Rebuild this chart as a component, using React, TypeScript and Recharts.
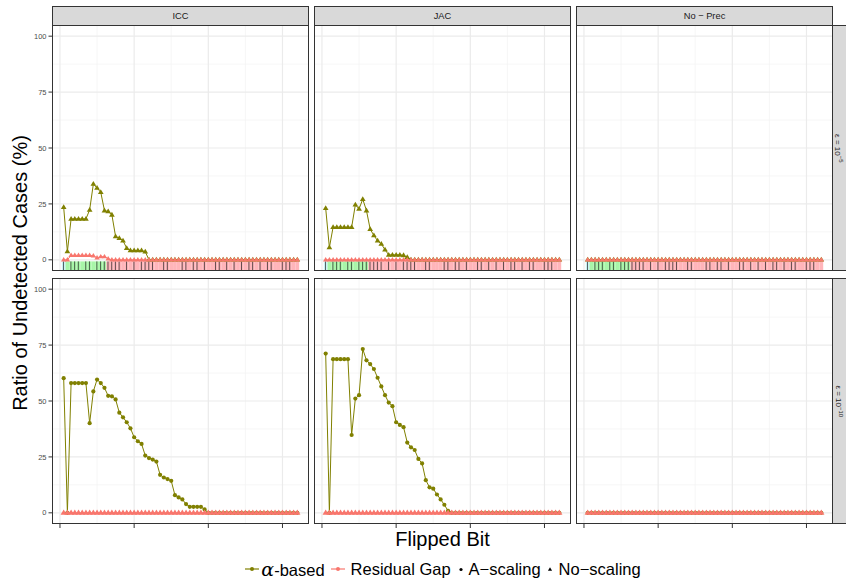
import React from 'react';
import { ComposedChart, Line, Bar, XAxis, YAxis, CartesianGrid } from 'recharts';

// flipped bit positions (1 = sign, 2-12 = exponent, 13-64 = mantissa)
const bits = Array.from({ length: 64 }, (_, i) => i + 1);
const xTicks = [0, 20, 40, 60];
const xMinor = [10, 30, 50];
const yTicks = [0, 25, 50, 75, 100];
const yMinor = [12.5, 37.5, 62.5, 87.5];

const methods = ['ICC', 'JAC', 'No − Prec'];
const epsExp = ['−5', '−10'];

// eps = 1e-5, No-scaling
const iccAlpha5 = [
  23.5, 3.7, 18.3, 18.3, 18.3, 18.3, 18.3, 22.3, 33.9, 32.1, 30.2, 22.0, 21.6, 20.1, 10.4, 9.7,
  8.5, 5.2, 4.2, 4.2, 4.2, 4.2, 3.6, 0, 0, 0, 0, 0, 0, 0, 0, 0,
  0, 0, 0, 0, 0, 0, 0, 0, 0, 0, 0, 0, 0, 0, 0, 0,
  0, 0, 0, 0, 0, 0, 0, 0, 0, 0, 0, 0, 0, 0, 0, 0,
];
const iccResid5 = [
  0, 0, 2, 2, 2, 2, 2, 2, 1.8, 0.9, 1.4, 1.4, 0.5, 0, 0, 0,
  0, 0, 0, 0, 0, 0, 0, 0, 0, 0, 0, 0, 0, 0, 0, 0,
  0, 0, 0, 0, 0, 0, 0, 0, 0, 0, 0, 0, 0, 0, 0, 0,
  0, 0, 0, 0, 0, 0, 0, 0, 0, 0, 0, 0, 0, 0, 0, 0,
];
const jacAlpha5 = [
  23.1, 5.5, 14.6, 14.6, 14.6, 14.6, 14.6, 14.6, 24.6, 22.8, 27.1, 22.0, 13.7, 10.9, 8.5, 7.1,
  4.5, 2.2, 2.2, 2.2, 2.2, 2.0, 1.2, 0, 0, 0, 0, 0, 0, 0, 0, 0,
  0, 0, 0, 0, 0, 0, 0, 0, 0, 0, 0, 0, 0, 0, 0, 0,
  0, 0, 0, 0, 0, 0, 0, 0, 0, 0, 0, 0, 0, 0, 0, 0,
];

// eps = 1e-10, A-scaling
const iccAlpha10 = [
  60.2, 0, 58.0, 58.0, 58.0, 58.0, 58.0, 40.1, 54.3, 59.6, 58.0, 55.9, 52.3, 52.1, 50.7, 44.8,
  42.7, 40.5, 37.8, 33.8, 32.0, 30.8, 25.6, 24.5, 23.8, 22.9, 17.0, 15.8, 15.1, 14.3, 7.9, 6.9,
  6.0, 3.9, 2.7, 2.7, 2.7, 2.7, 1.5, 0, 0, 0, 0, 0, 0, 0, 0, 0,
  0, 0, 0, 0, 0, 0, 0, 0, 0, 0, 0, 0, 0, 0, 0, 0,
];
const jacAlpha10 = [
  71.2, 0, 68.7, 68.7, 68.7, 68.7, 68.7, 34.8, 51.1, 52.6, 73.2, 68.2, 66.5, 64.3, 60.4, 56.5,
  52.6, 49.3, 47.7, 40.5, 39.3, 38.3, 31.4, 29.3, 28.1, 24.1, 22.1, 14.6, 11.4, 10.8, 8.2, 6.0,
  3.6, 0.9, 0, 0, 0, 0, 0, 0, 0, 0, 0, 0, 0, 0, 0, 0,
  0, 0, 0, 0, 0, 0, 0, 0, 0, 0, 0, 0, 0, 0, 0, 0,
];
const zeros = [
  0, 0, 0, 0, 0, 0, 0, 0, 0, 0, 0, 0, 0, 0, 0, 0,
  0, 0, 0, 0, 0, 0, 0, 0, 0, 0, 0, 0, 0, 0, 0, 0,
  0, 0, 0, 0, 0, 0, 0, 0, 0, 0, 0, 0, 0, 0, 0, 0,
  0, 0, 0, 0, 0, 0, 0, 0, 0, 0, 0, 0, 0, 0, 0, 0,
];

// bits with a dark tick in the bit strip
const markedBits = [1, 3, 4, 5, 7, 8, 10, 11, 12, 13, 14, 15, 16, 18, 20, 22, 23, 24, 25, 28, 29, 33, 34, 36, 37, 39, 42, 43, 45, 47, 49, 51, 52, 54, 56, 57, 60, 61, 62];
const stripRange = [-5, -0.7];

const OLIVE = '#808000';
const SALMON = '#F8766D';
const zoneFill: Record<string, string> = { sign: '#C9F3F5', exp: '#A8F5A8', man: '#FFB5BA' };
const zoneOf = (b: number) => (b === 1 ? 'sign' : b <= 12 ? 'exp' : 'man');

const PLOT_W = 257;
const PLOT_H = 246;
const COL_X = [52, 314, 576];
const ROW_Y = [25, 278];
const Y_AXIS_W = 52;
const X_AXIS_H = 6;
const FONT = '"Liberation Sans", Arial, Helvetica, sans-serif';

const panels = [
  { row: 0, col: 0, alpha: iccAlpha5, resid: iccResid5 },
  { row: 0, col: 1, alpha: jacAlpha5, resid: zeros },
  { row: 0, col: 2, alpha: zeros, resid: zeros },
  { row: 1, col: 0, alpha: iccAlpha10, resid: zeros },
  { row: 1, col: 1, alpha: jacAlpha10, resid: zeros },
  { row: 1, col: 2, alpha: zeros, resid: zeros },
];

const tri = (cx: number, cy: number, s: number) =>
  `${cx},${cy - s} ${cx - s * 0.95},${cy + s * 0.6} ${cx + s * 0.95},${cy + s * 0.6}`;

const BandShape = (p: any) => {
  const { x, y, width, height, payload } = p;
  const top = Math.min(y, y + height);
  const h = Math.abs(height);
  const cx = x + width / 2;
  return (
    <g>
      <rect x={x} y={top} width={width + 0.4} height={h} fill={zoneFill[payload.zone]} />
      {payload.mark ? <line x1={cx} x2={cx} y1={top} y2={top + h} stroke="#1a1a1a" strokeWidth={0.8} strokeOpacity={0.85} /> : null}
    </g>
  );
};

const EmptyTick = () => <g />;

function Panel({ row, col, alpha, resid }: { row: number; col: number; alpha: number[]; resid: number[] }) {
  const data = bits.map((b, i) => ({
    bit: b,
    alpha: alpha[i],
    resid: resid[i],
    band: stripRange,
    zone: zoneOf(b),
    mark: markedBits.includes(b),
  }));
  const leftPad = col === 0 ? Y_AXIS_W : 0;
  const bottomPad = row === 1 ? X_AXIS_H : 0;
  const olivDot = (p: any) =>
    row === 0 ? (
      <polygon key={`a${p.index}`} points={tri(p.cx, p.cy, 3)} fill={OLIVE} />
    ) : (
      <circle key={`a${p.index}`} cx={p.cx} cy={p.cy} r={2.1} fill={OLIVE} />
    );
  const redDot = (p: any) => <polygon key={`r${p.index}`} points={tri(p.cx, p.cy, row === 0 ? 2.8 : 3.3)} fill={SALMON} />;
  return (
    <div style={{ position: 'absolute', left: COL_X[col] - leftPad, top: ROW_Y[row] }}>
      <ComposedChart
        width={PLOT_W + leftPad}
        height={PLOT_H + bottomPad}
        data={data}
        margin={{ top: 0, right: 0, bottom: 0, left: 0 }}
        barCategoryGap={0}
        barGap={0}
      >
        <CartesianGrid horizontalValues={yMinor} verticalValues={xMinor} stroke="#F2F2F2" strokeWidth={0.7} />
        <CartesianGrid horizontalValues={yTicks} verticalValues={xTicks} stroke="#EBEBEB" strokeWidth={1.2} />
        <XAxis
          dataKey="bit"
          type="number"
          domain={[-2.15, 67.15]}
          ticks={xTicks}
          interval={0}
          allowDataOverflow
          hide={row === 0}
          height={X_AXIS_H}
          tick={EmptyTick}
          tickSize={4}
          axisLine={false}
          tickLine={{ stroke: '#333333' }}
        />
        <YAxis
          type="number"
          domain={[-5, 105]}
          ticks={yTicks}
          interval={0}
          allowDataOverflow
          hide={col !== 0}
          width={Y_AXIS_W}
          tickSize={3.5}
          tickMargin={2}
          axisLine={false}
          tickLine={{ stroke: '#333333' }}
          tick={{ fontSize: 7.5, fill: '#4D4D4D', fontFamily: FONT }}
        />
        {row === 0 && <Bar dataKey="band" shape={BandShape} barSize={3.71} isAnimationActive={false} />}
        <Line dataKey="alpha" stroke={OLIVE} strokeWidth={1} dot={olivDot} activeDot={false} isAnimationActive={false} />
        <Line dataKey="resid" stroke={SALMON} strokeWidth={1} dot={redDot} activeDot={false} isAnimationActive={false} />
      </ComposedChart>
    </div>
  );
}

function LegendKey({ kind }: { kind: string }) {
  if (kind === 'alpha' || kind === 'resid') {
    const c = kind === 'alpha' ? OLIVE : SALMON;
    return (
      <svg width={14} height={10} style={{ display: 'block' }}>
        <line x1={0} x2={14} y1={5} y2={5} stroke={c} strokeWidth={1.2} />
        <circle cx={7} cy={5} r={2} fill={c} />
      </svg>
    );
  }
  if (kind === 'dot') {
    return (
      <svg width={6} height={10} style={{ display: 'block' }}>
        <circle cx={3} cy={5.5} r={1.6} fill="#000" />
      </svg>
    );
  }
  return (
    <svg width={6} height={10} style={{ display: 'block' }}>
      <polygon points={tri(3, 5.5, 2.2)} fill="#000" />
    </svg>
  );
}

export default function App() {
  return (
    <div style={{ position: 'absolute', left: 0, top: 0, width: 846, height: 582, background: '#fff', fontFamily: FONT, overflow: 'hidden' }}>
      {panels.map((p) => (
        <Panel key={`${p.row}-${p.col}`} {...p} />
      ))}
      {panels.map((p) => (
        <div
          key={`b${p.row}-${p.col}`}
          style={{ position: 'absolute', left: COL_X[p.col], top: ROW_Y[p.row], width: PLOT_W, height: PLOT_H, border: '1px solid #333', boxSizing: 'border-box', pointerEvents: 'none' }}
        />
      ))}
      {methods.map((m, i) => (
        <div
          key={m}
          style={{ position: 'absolute', left: COL_X[i], top: 6, width: PLOT_W, height: 20, background: '#D9D9D9', border: '1px solid #333', boxSizing: 'border-box', display: 'flex', alignItems: 'center', justifyContent: 'center', fontSize: 9.3, color: '#1A1A1A' }}
        >
          {m}
        </div>
      ))}
      {epsExp.map((e, i) => (
        <div
          key={e}
          style={{ position: 'absolute', left: COL_X[2] + PLOT_W - 1, top: ROW_Y[i], width: 14, height: PLOT_H, background: '#D9D9D9', borderTop: '1px solid #333', borderBottom: '1px solid #333', borderLeft: '1px solid #333', boxSizing: 'border-box', display: 'flex', alignItems: 'center', justifyContent: 'center' }}
        >
          <span style={{ transform: 'translateX(-1px) rotate(90deg)', whiteSpace: 'nowrap', fontSize: 8, lineHeight: '9px', color: '#1A1A1A' }}>
            ε = 10<sup style={{ fontSize: 6, lineHeight: '6px' }}>{e}</sup>
          </span>
        </div>
      ))}
      <div style={{ position: 'absolute', left: 20, top: 273, transform: 'translate(-50%, -50%) rotate(-90deg)', whiteSpace: 'nowrap', fontSize: 20 }}>
        Ratio of Undetected Cases (%)
      </div>
      <div style={{ position: 'absolute', left: 52, width: 781, top: 527, textAlign: 'center', fontSize: 20, lineHeight: '24px' }}>
        Flipped Bit
      </div>
      <div style={{ position: 'absolute', left: 40, width: 806, top: 558, height: 22, display: 'flex', alignItems: 'center', justifyContent: 'center', fontSize: 16.5, whiteSpace: 'nowrap' }}>
        <LegendKey kind="alpha" />
        <span style={{ marginLeft: 2, marginRight: 6 }}>
          <span style={{ fontStyle: 'italic', fontFamily: '"DejaVu Serif", serif', fontSize: 19 }}>α</span>-based
        </span>
        <LegendKey kind="resid" />
        <span style={{ marginLeft: 6, marginRight: 7 }}>Residual Gap</span>
        <LegendKey kind="dot" />
        <span style={{ marginLeft: 5, marginRight: 6 }}>A−scaling</span>
        <LegendKey kind="tri" />
        <span style={{ marginLeft: 6 }}>No−scaling</span>
      </div>
    </div>
  );
}
